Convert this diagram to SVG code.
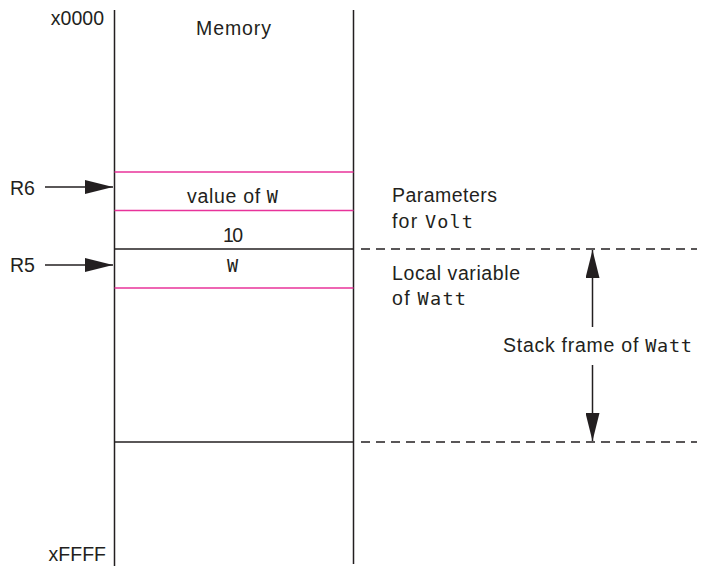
<svg xmlns="http://www.w3.org/2000/svg" width="707" height="566" viewBox="0 0 707 566">
<style>
.t{font-family:"Liberation Sans",Arial,sans-serif;font-size:19.5px;fill:#231f20}
.m{font-family:"DejaVu Sans Mono","Liberation Mono",monospace;font-size:18.5px}
.ln{stroke:#231f20;stroke-width:1.5;fill:none}
.pk{stroke:#e8339a;stroke-width:1.5;fill:none}
.ds{stroke:#231f20;stroke-width:1.5;stroke-dasharray:9 6;fill:none}
</style>
<defs>
<marker id="ah" markerUnits="userSpaceOnUse" markerWidth="28" markerHeight="14" refX="28" refY="7" orient="auto">
<path d="M0,0 L28,7 L0,14 z" fill="#231f20"/>
</marker>
</defs>
<g id="memory">
<line class="ln" x1="114.5" y1="10" x2="114.5" y2="566"/>
<line class="ln" x1="353.5" y1="10" x2="353.5" y2="564"/>
<text class="t" x="196" y="35" textLength="75" lengthAdjust="spacing">Memory</text>
<text class="t" x="104" y="25" text-anchor="end">x0000</text>
<text class="t" x="106" y="561" text-anchor="end">xFFFF</text>
</g>
<g id="cell-value-w">
<line class="pk" x1="114.5" y1="172" x2="353.5" y2="172"/>
<line class="pk" x1="114.5" y1="210.5" x2="353.5" y2="210.5"/>
<text class="t" x="187" y="203" textLength="91" lengthAdjust="spacing">value of <tspan class="m">W</tspan></text>
</g>
<g id="cell-10">
<text class="t" x="223" y="242" textLength="20" lengthAdjust="spacing">10</text>
</g>
<g id="cell-w">
<line class="ln" x1="114.5" y1="249" x2="353.5" y2="249"/>
<line class="pk" x1="114.5" y1="288" x2="353.5" y2="288"/>
<text class="t" x="227" y="272"><tspan class="m">W</tspan></text>
</g>
<g id="frame-bottom">
<line class="ln" x1="114.5" y1="442" x2="353.5" y2="442"/>
</g>
<g id="r6">
<text class="t" x="10" y="195">R6</text>
</g>
<g id="r5">
<text class="t" x="10" y="272">R5</text>
</g>
<g id="label-params">
<text class="t" x="392" y="202" textLength="105" lengthAdjust="spacing">Parameters</text>
<text class="t" x="392" y="228" textLength="81" lengthAdjust="spacing">for <tspan class="m">Volt</tspan></text>
</g>
<g id="label-local">
<text class="t" x="392" y="280" textLength="128" lengthAdjust="spacing">Local variable</text>
<text class="t" x="392" y="305" textLength="74" lengthAdjust="spacing">of <tspan class="m">Watt</tspan></text>
</g>
<g id="label-frame">
<text class="t" x="503" y="352" textLength="189" lengthAdjust="spacing">Stack frame of <tspan class="m">Watt</tspan></text>
</g>
<g id="connectors">
<line class="ln" x1="45" y1="187" x2="113" y2="187" marker-end="url(#ah)"/>
<line class="ln" x1="45" y1="265" x2="113" y2="265" marker-end="url(#ah)"/>
<line class="ds" x1="361" y1="249" x2="697" y2="249"/>
<line class="ds" x1="361" y1="442" x2="697" y2="442"/>
<line class="ln" x1="592.5" y1="327" x2="592.5" y2="250" marker-end="url(#ah)"/>
<line class="ln" x1="592.5" y1="365" x2="592.5" y2="441" marker-end="url(#ah)"/>
</g>
</svg>
